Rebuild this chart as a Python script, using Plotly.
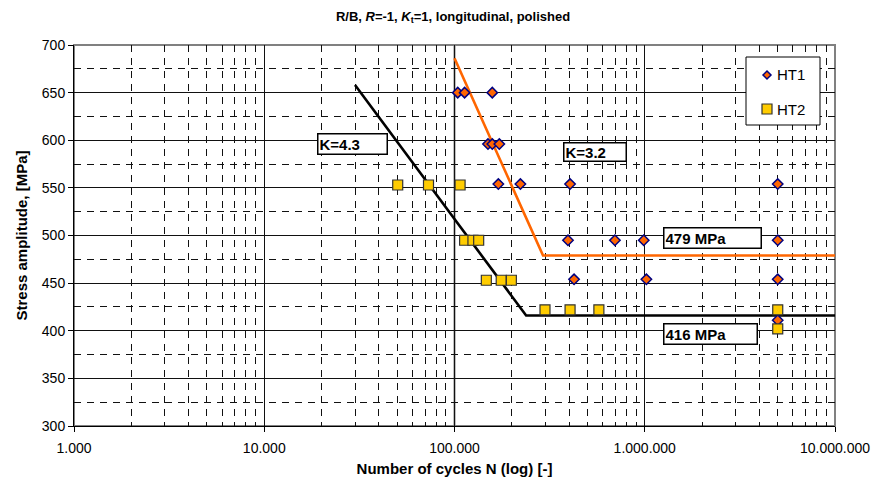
import plotly.graph_objects as go

# ---------------- data ----------------
HT1_N = [104000, 113000, 158000,
         150000, 158000, 172000,
         170000, 222000, 405000, 5000000,
         395000, 697000, 988000, 5000000,
         425000, 1020000, 5000000,
         5000000]
HT1_S = [650, 650, 650,
         596, 596, 596,
         554, 554, 554, 554,
         495, 495, 495, 495,
         454, 454, 454,
         411]

HT2_N = [50300, 73000, 107000,
         113000, 125000, 134000,
         147000, 176000, 199000,
         299000, 405000, 574000, 5000000,
         5000000]
HT2_S = [553, 553, 553,
         495, 495, 495,
         453, 453, 453,
         422, 422, 422, 422,
         402]

K43_N = [30000, 238000, 10000000]
K43_S = [658, 416, 416]
K32_N = [100000, 292000, 10000000]
K32_S = [686, 479, 479]

X_TICKS = [1000, 10000, 100000, 1000000, 10000000]
X_TICK_TEXT = ["1.000", "10.000", "100.000", "1.000.000", "10.000.000"]
X_MINOR = [m * 10 ** e for e in range(3, 7) for m in range(2, 10)]
Y_TICKS = [300, 350, 400, 450, 500, 550, 600, 650, 700]

LABELS = ["K=4.3", "K=3.2", "479 MPa", "416 MPa"]
SERIES = ["HT1", "HT2"]

# ---------------- layout helpers (pixel geometry) ----------------
W, H = 877, 487
L, R, T, B = 74, 835, 45, 426
def px(x):
    return (x - L) / (R - L)
def py(y):
    return (B - y) / (B - T)

FONT = "Liberation Sans, Arial, sans-serif"
ORANGE = "#FF6600"
NAVY = "#000080"
GOLD = "#FFCC00"

fig = go.Figure()

fig.add_trace(go.Scatter(x=K43_N, y=K43_S, mode="lines",
                         line=dict(color="black", width=2.6), showlegend=False, hoverinfo="skip"))
fig.add_trace(go.Scatter(x=K32_N, y=K32_S, mode="lines",
                         line=dict(color=ORANGE, width=2.6), showlegend=False, hoverinfo="skip"))

fig.add_trace(go.Scatter(x=HT1_N, y=HT1_S, mode="markers", name=SERIES[0], showlegend=False,
                         marker=dict(symbol="diamond", size=8, color=ORANGE,
                                     line=dict(color=NAVY, width=1.5))))
fig.add_trace(go.Scatter(x=HT2_N, y=HT2_S, mode="markers", name=SERIES[1], showlegend=False,
                         marker=dict(symbol="square", size=10, color=GOLD,
                                     line=dict(color="#333333", width=1.2))))

# annotation boxes (label, x0, x1, y0, y1 in px)
boxes = [(LABELS[0], 317, 388, 133, 155),
         (LABELS[1], 563, 627, 142, 162),
         (LABELS[2], 663, 762, 227, 249),
         (LABELS[3], 663, 758, 323, 345)]
annotations = []
for text, x0, x1, y0, y1 in boxes:
    annotations.append(dict(
        text="<b>%s</b>" % text, xref="paper", yref="paper",
        x=px((x0 + x1) / 2), y=py((y0 + y1) / 2), xanchor="center", yanchor="middle",
        showarrow=False, width=x1 - x0 - 5, height=y1 - y0 - 5, align="left", valign="middle",
        bordercolor="black", borderwidth=1.5, borderpad=1, bgcolor="white",
        font=dict(family=FONT, size=15, color="black")))

# custom legend texts
for name, yy in zip(SERIES, [75, 109]):
    annotations.append(dict(text=name, xref="paper", yref="paper", x=px(775), y=py(yy),
                            xanchor="left", yanchor="middle", showarrow=False,
                            font=dict(family=FONT, size=15, color="black")))

def ppath(points):
    return "M " + " L ".join("%f,%f" % (px(a), py(b)) for a, b in points) + " Z"

shapes = [
    # 100.000 vertical gray line
    dict(type="line", xref="x", yref="paper", x0=100000, x1=100000, y0=0, y1=1,
         line=dict(color="#808080", width=2), layer="below"),
    # plot area border (gray)
    dict(type="rect", xref="paper", yref="paper", x0=0, x1=1, y0=0, y1=1,
         line=dict(color="#808080", width=2), layer="below"),
    # legend box
    dict(type="rect", xref="paper", yref="paper", x0=px(746), x1=px(820), y0=py(125), y1=py(57),
         line=dict(color="black", width=1), fillcolor="white", layer="above"),
    # legend diamond (HT1)
    dict(type="path", xref="paper", yref="paper",
         path=ppath([(767, 71), (771, 75), (767, 79), (763, 75)]),
         fillcolor=ORANGE, line=dict(color=NAVY, width=1.5), layer="above"),
    # legend square (HT2)
    dict(type="rect", xref="paper", yref="paper", x0=px(762), x1=px(772), y0=py(114), y1=py(104),
         fillcolor=GOLD, line=dict(color="#333333", width=1.2), layer="above"),
]

fig.update_layout(
    width=W, height=H,
    margin=dict(l=L, r=W - R, t=T, b=H - B, pad=0, autoexpand=False),
    paper_bgcolor="white", plot_bgcolor="white",
    font=dict(family=FONT, size=14, color="black"),
    title=dict(text="<b>R/B, <i>R</i>=-1, <i>K</i><sub>t</sub>=1, longitudinal, polished</b>",
               x=px(453), xref="paper", xanchor="center", y=1 - 16 / H, yanchor="middle",
               font=dict(family=FONT, size=13, color="black")),
    showlegend=False,
    annotations=annotations,
    shapes=shapes,
)

fig.update_xaxes(type="log", range=[3, 7], automargin=False,
                 tickmode="array", tickvals=X_TICKS, ticktext=X_TICK_TEXT,
                 ticks="outside", ticklen=5, tickcolor="black", ticklabelstandoff=4,
                 showline=True, linecolor="black", linewidth=1,
                 showgrid=True, gridcolor="#111111", gridwidth=1,
                 minor=dict(tickmode="array", tickvals=X_MINOR, showgrid=True,
                            gridcolor="#111111", griddash="7px,6px", gridwidth=1, ticks=""),
                 zeroline=False,
                 tickfont=dict(family=FONT, size=14, color="black"),
                 title=dict(text="<b>Number of cycles N (log) [-]</b>", standoff=8,
                            font=dict(family=FONT, size=15, color="black")))

fig.update_yaxes(range=[300, 700], automargin=False, tickmode="array", tickvals=Y_TICKS,
                 ticks="outside", ticklen=5, tickcolor="black",
                 showline=True, linecolor="black", linewidth=1,
                 showgrid=True, gridcolor="#111111", gridwidth=1,
                 minor=dict(dtick=25, tick0=325, showgrid=True,
                            gridcolor="#111111", griddash="7px,6px", gridwidth=1, ticks=""),
                 zeroline=False,
                 tickfont=dict(family=FONT, size=14, color="black"),
                 title=dict(text="<b>Stress amplitude, [MPa]</b>", standoff=10,
                            font=dict(family=FONT, size=15, color="black")))

fig.write_html("out.html")
